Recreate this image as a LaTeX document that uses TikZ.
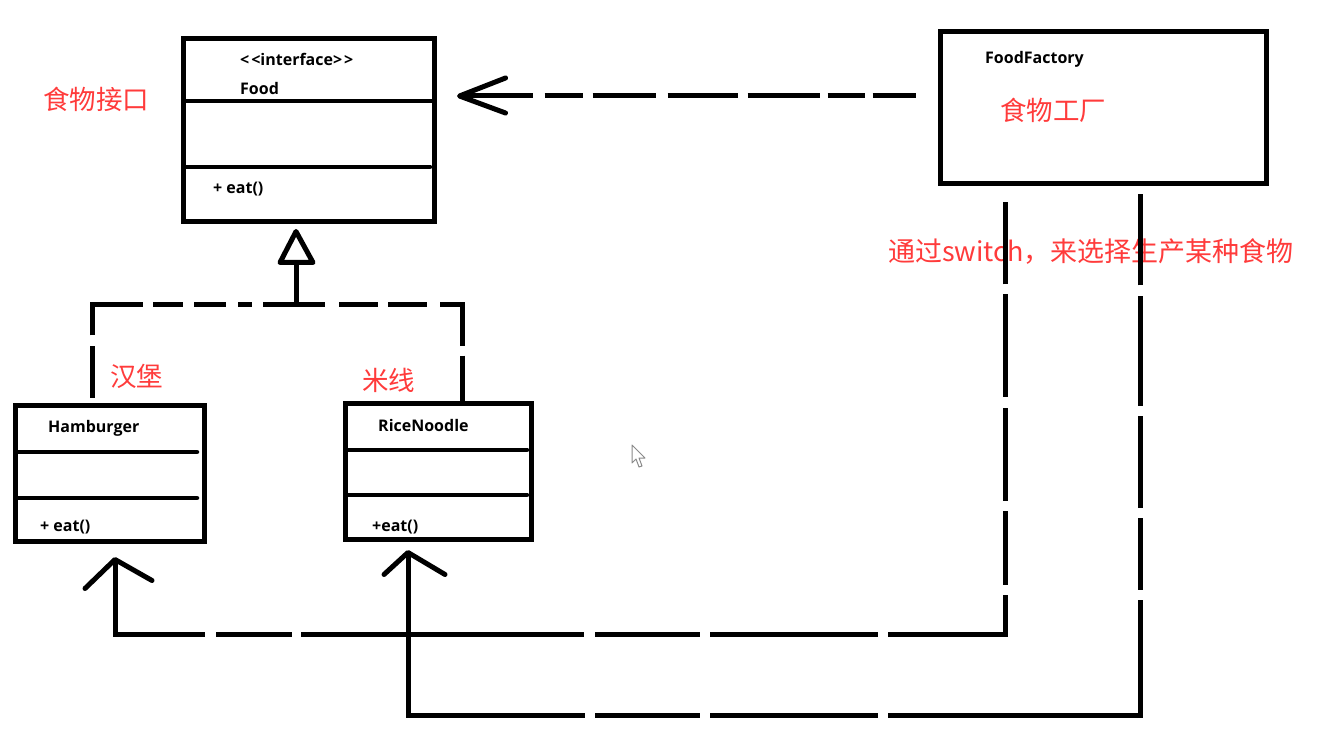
\documentclass[tikz,border=0pt]{standalone}
\usepackage{fontspec}
\setmainfont{Open Sans}
\newfontfamily\cjk{Noto Sans CJK SC}
\usetikzlibrary{calc}
\definecolor{notered}{HTML}{FF3B3B}
\definecolor{cursorgray}{HTML}{8A8A8A}
\tikzset{
  umlbox/.style={draw=black, line width=5pt, rectangle, inner sep=0pt, fill=white},
  divider/.style={line width=4.5pt, line cap=round},
  lbl/.style={anchor=base west, inner sep=0pt, font=\fontsize{16}{16}\selectfont\bfseries},
  note/.style={anchor=base west, inner sep=0pt, text=notered, font=\cjk\fontsize{26.5}{26.5}\selectfont},
  conn/.style={line width=5pt, line cap=butt, line join=miter},
  barb/.style={line width=5pt, line cap=round, line join=round},
}
\begin{document}
\begin{tikzpicture}[x=1pt,y=-1pt]
\useasboundingbox[fill=white] (0,0) rectangle (1320,751);

% boxes
\node[umlbox, minimum width=251pt, minimum height=183pt] (food) at (309,130) {};
\node[umlbox, minimum width=326pt, minimum height=152pt] (factory) at (1103,108) {};
\node[umlbox, minimum width=189pt, minimum height=136pt] (ham) at (109.5,473) {};
\node[umlbox, minimum width=186pt, minimum height=136pt] (rice) at (438,471) {};

% dividers
\draw[divider] (184,101) -- (434,101);
\draw[divider] (184,167) -- (430,167);
\draw[divider] (16,452) -- (197,452);
\draw[divider] (16,498) -- (197,498);
\draw[divider] (346,450) -- (527,450);
\draw[divider] (346,495) -- (527,495);

% class texts
\node[lbl] (tIface) at (240,66) {<\kern2pt<interface>\kern2pt>};
\node[lbl] (tFood) at (240,94.5) {Food};
\node[lbl] (tFoodEat) at (213,194) {+ eat()};
\node[lbl] (tFactory) at (985,64) {FoodFactory};
\node[lbl] (tHam) at (48,432) {Hamburger};
\node[lbl] (tHamEat) at (40,531) {+ eat()};
\node[lbl] (tRice) at (378,431) {RiceNoodle};
\node[lbl] (tRiceEat) at (372,531) {+eat()};

% red notes
\node[note] (nFood) at (43,110) {食物接口};
\node[note] (nFactory) at (1000,121) {食物工厂};
\node[note, font=\cjk\fontsize{27}{27}\selectfont] (nSwitch) at (888,262) {通过switch，来选择生产某种食物};
\node[note] (nHam) at (110,386) {汉堡};
\node[note] (nRice) at (362,390) {米线};

% factory -> food dependency
\coordinate (ft) at ($(food.east)+(22.5,-34)$);
\coordinate (fs) at ($(factory.west)+(-22,-12)$);
\draw[conn, dash pattern=on 73pt off 12pt on 38pt off 10pt on 63pt off 12pt on 70pt off 10pt on 72pt off 8pt on 37pt off 8pt on 50pt off 8pt] (ft) -- (fs);
\draw[barb] ($(ft)+(46,-18)$) -- (ft) -- ($(ft)+(46,17)$);

% realization (interface)
\coordinate (tri) at ($(food.south)+(-13,7.5)$);
\coordinate (j) at ($(tri)+(0,73)$);
\draw[line width=5pt, line join=round, fill=white] (tri) -- ($(tri)+(17,31)$) -- ($(tri)+(-16,31)$) -- cycle;
\draw[conn] ($(tri)+(0,31)$) -- (j);
\draw[conn, dash pattern=on 52pt off 10pt on 82pt off 10pt on 30pt off 11pt on 32pt off 12pt on 14pt off 11pt on 62pt off 14pt on 39pt off 10pt on 39pt off 13pt on 63pt off 10pt on 60pt off 10pt]
  ($(ham.north)+(-17.5,-5)$) |- (j) -| ($(rice.north)+(24,0)$);

% factory -> hamburger
\coordinate (ht) at ($(ham.south)+(5.5,16)$);
\coordinate (hb) at ($(ht)+(0,75)$);
\coordinate (h1) at ($(factory.south)+(-98,16)$);
\draw[conn, dash pattern=on 165pt off 11pt on 76pt off 9pt on 283pt off 11pt on 105pt off 10pt on 168pt off 10pt on 157pt off 10pt on 74pt off 10pt on 93pt off 11pt on 102pt off 10pt on 90pt off 10pt]
  (ht) -- (hb) -| (h1);
\draw[barb] ($(ht)+(-30,29)$) -- (ht) -- ($(ht)+(37,21)$);

% factory -> rice noodle
\coordinate (rt) at ($(rice.south)+(-30,11)$);
\coordinate (rb) at ($(rt)+(0,163)$);
\coordinate (r1) at ($(factory.south)+(37,8)$);
\draw[conn, dash pattern=on 340pt off 10pt on 105pt off 10pt on 168pt off 10pt on 368pt off 10pt on 72pt off 10pt on 92pt off 10pt on 109pt off 11pt on 100pt off 10pt]
  (rt) -- (rb) -| (r1);
\draw[barb] ($(rt)+(-24,22)$) -- (rt) -- ($(rt)+(37,22)$);

% mouse cursor
\draw[cursorgray, fill=white, line width=1pt, line join=round]
  (632,445) -- (632,463) -- (636,459) -- (639,467) -- (642,466) -- (639,458) -- (645,458) -- cycle;
\end{tikzpicture}
\end{document}
